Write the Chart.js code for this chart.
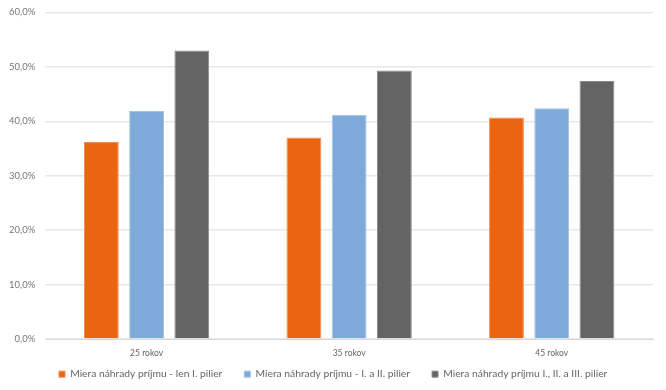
<!DOCTYPE html>
<html>
<head>
<meta charset="utf-8">
<script src="https://cdn.jsdelivr.net/npm/chart.js@4"></script>
<style>
  html, body { margin: 0; padding: 0; background: #fff; }
  #wrap { width: 666px; height: 390px; }
</style>
</head>
<body>
<div id="wrap"><canvas id="chart" width="666" height="390"></canvas></div>
<script>
// Data
const categories = ['25 rokov', '35 rokov', '45 rokov'];
const seriesNames = [
    'Miera náhrady príjmu - len I. pilier',
    'Miera náhrady príjmu - I. a II. pilier',
    'Miera náhrady príjmu I., II. a III. pilier'
];
const pillarOnly = [36.2, 37.0, 40.7];
const pillarOneTwo = [41.9, 41.2, 42.4];
const pillarAll = [53.0, 49.3, 47.4];
const yTickValues = [0, 10, 20, 30, 40, 50, 60];

const colors = ['#EB6410', '#7DAAD8', '#646464'];
const edges = ['#F08A4E', '#A3C3E5', '#8A8A8A'];
const fontFamily = 'Lato, "Open Sans", sans-serif';

// move the legend where the reference has it
const legendPlace = {
    id: 'legendPlace',
    afterLayout(chart) {
        const lg = chart.legend;
        const dx = 37 - lg.left;
        const dy = 347 - lg.top;
        lg.left += dx; lg.right += dx;
        lg.top += dy; lg.bottom += dy;
    }
};

const ctx = document.getElementById('chart').getContext('2d');
new Chart(ctx, {
    type: 'bar',
    data: {
        labels: categories,
        datasets: [pillarOnly, pillarOneTwo, pillarAll].map((values, i) => ({
            label: seriesNames[i],
            data: values,
            backgroundColor: colors[i],
            borderColor: edges[i],
            borderWidth: 1,
            categoryPercentage: 0.67,
            barPercentage: 0.77
        }))
    },
    options: {
        responsive: false,
        animation: false,
        layout: { padding: { left: -1, right: 13, top: -8, bottom: -19.5 } },
        plugins: {
            legend: {
                position: 'bottom',
                align: 'start',
                labels: {
                    boxWidth: 6,
                    boxHeight: 6,
                    padding: 22,
                    color: '#666',
                    font: { family: fontFamily, size: 10.3 }
                }
            },
            tooltip: { enabled: false }
        },
        scales: {
            x: {
                grid: { display: false, drawTicks: false, tickLength: 0 },
                border: { color: '#d9d9d9', width: 1 },
                ticks: { color: '#666', padding: 9, font: { family: fontFamily, size: 8.5 } }
            },
            y: {
                min: 0,
                max: 60,
                afterBuildTicks(scale) {
                    scale.ticks = yTickValues.map(v => ({ value: v }));
                },
                grid: { color: '#e8e8e8', lineWidth: 1.5, drawTicks: false },
                border: { display: false },
                ticks: {
                    color: '#777',
                    padding: 10,
                    font: { family: fontFamily, size: 9.5, lineHeight: 0.5 },
                    callback: v => v.toFixed(1).replace('.', ',') + '%'
                }
            }
        }
    },
    plugins: [legendPlace]
});
</script>
</body>
</html>
